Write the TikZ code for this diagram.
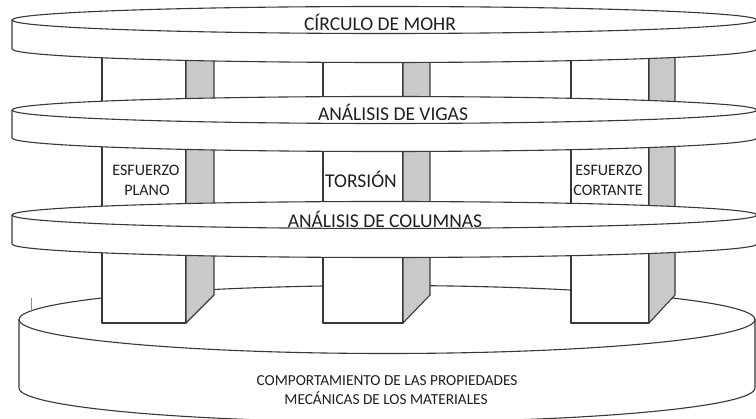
\documentclass[tikz,border=0pt]{standalone}
\usepackage{fontspec}
\setmainfont{Carlito}
\newcommand\drawdisk[5]{% cx, cy, rx, ry, h
  \fill[white] ({#1-#3},#2) arc[start angle=180,end angle=0,x radius=#3pt,y radius=#4pt] -- ++(0,#5) arc[start angle=0,end angle=-180,x radius=#3pt,y radius=#4pt] -- cycle;
  \draw[outl] (#1,#2) ellipse[x radius=#3pt, y radius=#4pt];
  \draw[outl] ({#1-#3},#2) -- ++(0,#5) arc[start angle=180,end angle=360,x radius=#3pt,y radius=#4pt] -- ++(0,-#5);
}
\newcommand\drawpillar[3]{% x1,x2,x3
  \filldraw[outl, fill=white] (#1,40) rectangle (#2,323);
  \filldraw[outl, sidefill] (#2,40) -- (#3,40) -- (#3,295) -- (#2,323) -- cycle;
}
\begin{document}
\begin{tikzpicture}[x=1pt,y=-1pt,
  outl/.style={draw=black!78, line width=1.1pt, line join=round},
  sidefill/.style={fill=black!21},
  lbl/.style={inner sep=0pt, anchor=base, text=black!88},
  big/.style={font=\fontsize{19.5}{23}\selectfont},
  small/.style={font=\fontsize{16}{19}\selectfont},
  basetxt/.style={font=\fontsize{15.3}{19}\selectfont},
]
\useasboundingbox (0,0) rectangle (756,419);
\clip (0,0) rectangle (756,419);
% base
\drawdisk{387}{319.5}{368}{34}{68.5}
\draw[black!45, line width=0.6pt] (31,298) -- (31,312);
% pillars
\drawpillar{102}{186}{214}
\drawpillar{323}{403}{430}
\drawpillar{571}{649}{675}
% disks
\drawdisk{384.5}{215}{372.5}{13.5}{29}
\drawdisk{384.5}{110}{372.5}{13.5}{28}
\drawdisk{384.5}{20}{372.5}{13.5}{29}
% labels
\node[lbl, big] (mohr) at (380,31) {CÍRCULO DE MOHR};
\node[lbl, big] (vigas) at (393,121) {ANÁLISIS DE VIGAS};
\node[lbl, big] (columnas) at (385,228) {ANÁLISIS DE COLUMNAS};
\node[lbl, big] (torsion) at (361,188) {TORSIÓN};
\node[lbl, small] (esf1) at (146,176) {ESFUERZO};
\node[lbl, small] (plano) at (147,196) {PLANO};
\node[lbl, small] (esf2) at (609,176) {ESFUERZO};
\node[lbl, small] (cortante) at (608,196) {CORTANTE};
\node[lbl, basetxt] (comp1) at (387,386) {COMPORTAMIENTO DE LAS PROPIEDADES};
\node[lbl, basetxt] (comp2) at (386,405) {MECÁNICAS DE LOS MATERIALES};
\end{tikzpicture}
\end{document}
